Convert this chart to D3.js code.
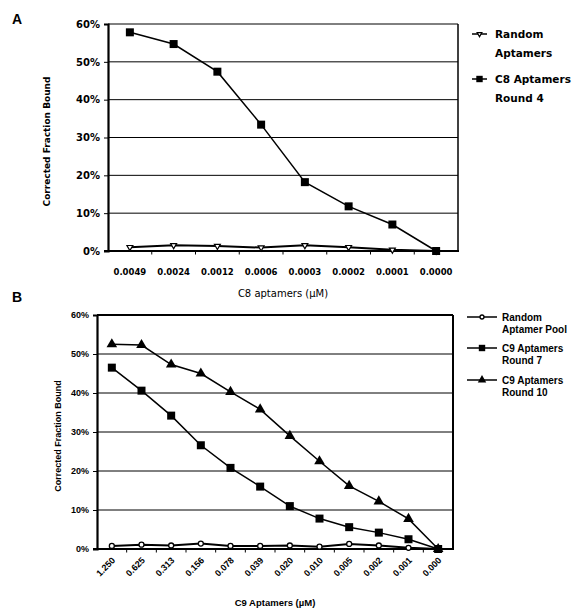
<!DOCTYPE html>
<html>
<head>
<meta charset="utf-8">
<script src="https://cdn.jsdelivr.net/npm/d3@7"></script>
<style>
  body { margin: 0; background: #fff; }
  svg { display: block; }
</style>
</head>
<body>
<div id="chart"></div>
<script>
// panel A data
const catsA = ["0.0049", "0.0024", "0.0012", "0.0006", "0.0003", "0.0002", "0.0001", "0.0000"];
const randomA = [0.010, 0.015, 0.013, 0.009, 0.015, 0.010, 0.003, 0.000];
const c8Round4 = [0.578, 0.547, 0.474, 0.334, 0.182, 0.118, 0.070, 0.000];

// panel B data
const catsB = ["1.250", "0.625", "0.313", "0.156", "0.078", "0.039", "0.020", "0.010", "0.005", "0.002", "0.001", "0.000"];
const randomPool = [0.008, 0.011, 0.009, 0.014, 0.008, 0.008, 0.009, 0.006, 0.013, 0.009, 0.003, 0.000];
const c9Round7 = [0.465, 0.406, 0.342, 0.266, 0.208, 0.160, 0.110, 0.078, 0.056, 0.042, 0.025, 0.000];
const c9Round10 = [0.525, 0.523, 0.473, 0.450, 0.403, 0.358, 0.290, 0.225, 0.162, 0.122, 0.077, 0.000];

const yTicks = [0, 0.1, 0.2, 0.3, 0.4, 0.5, 0.6];

const W = 583, H = 609;
const svg = d3.select("#chart").append("svg")
    .attr("width", W)
    .attr("height", H);

function marker(g, type, x, y, size) {
    if (type === "square") {
        g.append("rect")
            .attr("x", x - size / 2).attr("y", y - size / 2)
            .attr("width", size).attr("height", size)
            .attr("fill", "#000");
    } else if (type === "triangle") {
        g.append("path")
            .attr("d", d3.symbol(d3.symbolTriangle, size * size * 0.6)())
            .attr("transform", `translate(${x},${y})`)
            .attr("fill", "#000");
    } else if (type === "downTriangle") {
        g.append("path")
            .attr("d", d3.symbol(d3.symbolTriangle, size * size * 0.5)())
            .attr("transform", `translate(${x},${y}) rotate(180)`)
            .attr("fill", "#fff").attr("stroke", "#000").attr("stroke-width", 1.2);
    } else if (type === "circle") {
        g.append("circle")
            .attr("cx", x).attr("cy", y).attr("r", size / 2)
            .attr("fill", "#fff").attr("stroke", "#000").attr("stroke-width", 1.3);
    }
}

function drawPanel(p) {
    const g = svg.append("g");

    const x = d3.scalePoint().domain(p.cats).range([p.left, p.right]).padding(0.5);
    const band = d3.scaleBand().domain(p.cats).range([p.left, p.right]);
    const y = d3.scaleLinear().domain([0, 0.6]).range([p.bottom, p.top]);

    // gridlines
    g.append("g").selectAll("line")
        .data(yTicks.slice(1))
        .join("line")
        .attr("x1", p.left).attr("x2", p.right)
        .attr("y1", d => y(d)).attr("y2", d => y(d))
        .attr("stroke", "#000")
        .attr("stroke-width", d => (d === 0.6 ? p.topWidth : 1));

    // right border
    g.append("line")
        .attr("x1", p.right).attr("x2", p.right)
        .attr("y1", p.top).attr("y2", p.bottom)
        .attr("stroke", "#000").attr("stroke-width", p.rightWidth);

    // y axis
    const yAxis = d3.axisLeft(y).tickValues(yTicks).tickFormat(d3.format(".0%")).tickSize(4).tickPadding(4);
    const ya = g.append("g")
        .attr("transform", `translate(${p.left},0)`)
        .call(yAxis);
    ya.select(".domain").attr("stroke-width", 2.2);
    ya.selectAll("text")
        .attr("font-family", p.font)
        .attr("font-weight", "bold")
        .attr("font-size", p.yTickSize)
        .attr("fill", "#000");

    // x axis line and boundary ticks
    g.append("line")
        .attr("x1", p.left - 4).attr("x2", p.right + 1)
        .attr("y1", p.bottom).attr("y2", p.bottom)
        .attr("stroke", "#000").attr("stroke-width", 2.2);
    g.append("g").selectAll("line")
        .data(p.cats.slice(1))
        .join("line")
        .attr("x1", d => band(d)).attr("x2", d => band(d))
        .attr("y1", p.bottom).attr("y2", p.bottom + 3.5)
        .attr("stroke", "#000").attr("stroke-width", 1);

    // x tick labels
    const xl = g.append("g").selectAll("text")
        .data(p.cats)
        .join("text")
        .attr("font-family", p.font)
        .attr("font-weight", "bold")
        .attr("font-size", p.xTickSize)
        .text(d => d);
    if (p.rotate) {
        xl.attr("text-anchor", "end")
            .attr("transform", d => `translate(${x(d) + 4},${p.bottom + 12}) rotate(-45)`);
    } else {
        xl.attr("text-anchor", "middle")
            .attr("x", d => x(d))
            .attr("y", p.bottom + 24);
    }

    // axis titles
    g.append("text")
        .attr("x", p.xTitleX).attr("y", p.xTitleY)
        .attr("text-anchor", "middle")
        .attr("font-family", p.font)
        .attr("font-weight", p.rotate ? "bold" : "normal")
        .attr("font-size", p.xTitleSize)
        .text(p.xTitle);
    g.append("text")
        .attr("transform", `translate(${p.yTitleX},${(p.top + p.bottom) / 2 + 4}) rotate(-90)`)
        .attr("text-anchor", "middle")
        .attr("font-family", p.font)
        .attr("font-weight", "bold")
        .attr("font-size", 9)
        .text("Corrected Fraction Bound");

    // series
    const line = d3.line().x((d, i) => x(p.cats[i])).y(d => y(d));
    p.series.forEach(s => {
        g.append("path")
            .attr("d", line(s.values))
            .attr("fill", "none")
            .attr("stroke", "#000")
            .attr("stroke-width", s.width);
        s.values.forEach((v, i) => marker(g, s.marker, x(p.cats[i]), y(v), s.size));
    });

    // legend
    p.series.forEach((s, i) => {
        const ly = p.legendY[i];
        g.append("line")
            .attr("x1", p.legendX1).attr("x2", p.legendX2)
            .attr("y1", ly).attr("y2", ly)
            .attr("stroke", "#000").attr("stroke-width", 1.5);
        marker(g, s.marker, (p.legendX1 + p.legendX2) / 2, ly, s.size * 0.8);
        s.label.forEach((t, j) => {
            g.append("text")
                .attr("x", p.legendTextX)
                .attr("y", ly + 4 + j * p.legendLine)
                .attr("font-family", p.font)
                .attr("font-weight", "bold")
                .attr("font-size", p.legendSize)
                .text(t);
        });
    });

    // panel letter
    g.append("text")
        .attr("x", 12).attr("y", p.letterY)
        .attr("font-family", "Liberation Sans, Arial, sans-serif")
        .attr("font-weight", "bold")
        .attr("font-size", 14)
        .text(p.letter);
}

drawPanel({
    letter: "A", letterY: 24,
    cats: catsA,
    left: 108, right: 458, top: 24, bottom: 251,
    topWidth: 1, rightWidth: 1.5,
    font: "DejaVu Sans, sans-serif",
    yTickSize: 10, xTickSize: 8.5, rotate: false,
    xTitle: "C8 aptamers (µM)", xTitleX: 283, xTitleY: 297, xTitleSize: 10,
    yTitleX: 50,
    series: [
        { values: randomA, marker: "downTriangle", size: 5.5, width: 2, label: ["Random", "Aptamers"] },
        { values: c8Round4, marker: "square", size: 8, width: 1.5, label: ["C8 Aptamers", "Round 4"] }
    ],
    legendX1: 472, legendX2: 487, legendTextX: 495,
    legendY: [34, 79], legendLine: 19, legendSize: 10.5
});

drawPanel({
    letter: "B", letterY: 302,
    cats: catsB,
    left: 97, right: 453, top: 315, bottom: 549,
    topWidth: 2.2, rightWidth: 2,
    font: "Liberation Sans, Arial, sans-serif",
    yTickSize: 9, xTickSize: 9, rotate: true,
    xTitle: "C9 Aptamers (µM)", xTitleX: 275, xTitleY: 606, xTitleSize: 9.5,
    yTitleX: 61,
    series: [
        { values: randomPool, marker: "circle", size: 5, width: 2, label: ["Random", "Aptamer Pool"] },
        { values: c9Round7, marker: "square", size: 8, width: 1.5, label: ["C9 Aptamers", "Round 7"] },
        { values: c9Round10, marker: "triangle", size: 9, width: 1.5, label: ["C9 Aptamers", "Round 10"] }
    ],
    legendX1: 467, legendX2: 497, legendTextX: 502,
    legendY: [317, 348, 380], legendLine: 12, legendSize: 10
});
</script>
</body>
</html>
